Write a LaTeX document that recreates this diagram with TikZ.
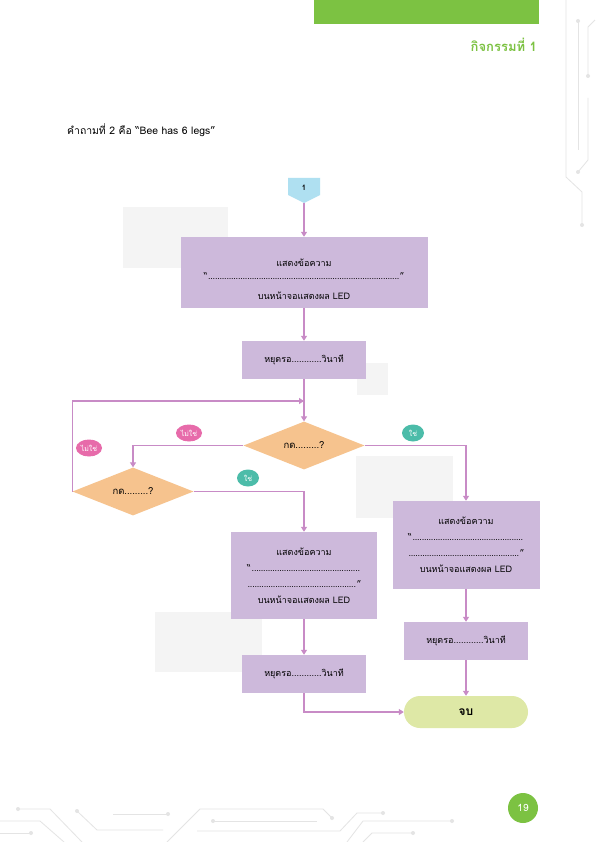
\documentclass[tikz,border=0pt]{standalone}
\usepackage{fontspec}
\setmainfont{Loma}[Script=Thai]
\usetikzlibrary{shapes.geometric,arrows.meta}
\definecolor{boxp}{HTML}{CDB9DB}
\definecolor{linep}{HTML}{C88BC6}
\definecolor{dia}{HTML}{F6C38E}
\definecolor{lblue}{HTML}{AFE0F1}
\definecolor{pinkl}{HTML}{E76BAA}
\definecolor{teall}{HTML}{4CBCA9}
\definecolor{termg}{HTML}{DEE8A6}
\definecolor{hgreen}{HTML}{7CC242}
\definecolor{shade}{HTML}{F4F4F4}
\definecolor{deco}{HTML}{E4E4E4}
\newcommand\dotline[1]{\hbox to #1{\cleaders\hbox to 2.3pt{\hss.\hss}\hfill}}
\tikzset{
  procbox/.style={fill=boxp, draw=none, inner sep=0pt, align=center, font=\fontsize{9}{16}\selectfont},
  decis/.style={diamond, fill=dia, draw=none, inner sep=0pt, minimum width=121pt, minimum height=45pt, font=\fontsize{9.5}{10}\selectfont},
  conn/.style={draw=linep, line width=1.2pt, -{Triangle[width=6pt,length=5pt]}},
  yeslbl/.style={ellipse, fill=teall, text=white, minimum width=22pt, minimum height=17pt, inner sep=0pt, font=\fontsize{7}{8}\selectfont},
  nolbl/.style={ellipse, fill=pinkl, text=white, minimum width=26pt, minimum height=17pt, inner sep=0pt, font=\fontsize{7}{8}\selectfont},
  shadebox/.style={fill=shade, draw=none},
  decoline/.style={draw=deco, line width=0.8pt},
  decodot/.style={fill=deco, draw=none}
}
\begin{document}
\begin{tikzpicture}[x=1pt,y=-1pt]
\useasboundingbox (0,0) rectangle (595,842);
\fill[white] (0,0) rectangle (595,842);
% header
\fill[hgreen] (314,0) rectangle (539,24);
\node[anchor=east, text=hgreen, font=\fontsize{13}{15}\selectfont\bfseries, inner sep=0pt] (title) at (537,45) {กิจกรรมที่ 1};
\node[anchor=west, inner sep=0pt, font=\fontsize{10.4}{12}\selectfont] (question) at (67,130) {คำถามที่ 2 คือ “Bee has 6 legs”};
% decorations right
\draw[decoline] (566,0) -- (566,177) -- (582,192) -- (582,225);
\fill[decodot] (582,225) circle (2pt);
\draw[decoline] (578,21) -- (578,150);
\fill[decodot] (578,21) circle (2pt);
\draw[decoline] (588,76) -- (588,27) -- (595,20);
\fill[decodot] (588,76) circle (2pt);
\draw[decoline] (588,98) -- (588,160) -- (578,172);
\fill[decodot] (578,172) circle (2pt);
% decorations bottom
\draw[decoline] (18,809) -- (50,809) -- (82,842);
\fill[decodot] (18,809) circle (2pt);
\draw[decoline] (0,821) -- (40,821) -- (64,842);
\draw[decoline] (0,833) -- (31,833);
\fill[decodot] (31,833) circle (2pt);
\draw[decoline] (77,811) -- (97,830) -- (163,830);
\fill[decodot] (77,811) circle (2pt);
\draw[decoline] (113,814) -- (168,814);
\fill[decodot] (168,814) circle (2pt);
\draw[decoline] (167,842) -- (200,809) -- (323,809) -- (332,818);
\fill[decodot] (332,818) circle (2pt);
\draw[decoline] (213,821) -- (317,821);
\fill[decodot] (213,821) circle (2pt);
\draw[decoline] (197,831) -- (340,831) -- (357,813) -- (383,813);
\fill[decodot] (383,813) circle (2pt);
\draw[decoline] (347,842) -- (363,821) -- (452,821);
\fill[decodot] (452,821) circle (2pt);
\draw[decoline] (363,842) -- (372,833) -- (413,833);
\fill[decodot] (413,833) circle (2pt);
% page number
\node[circle, fill=hgreen, text=white, minimum size=30pt, inner sep=0pt, font=\fontsize{10}{11}\selectfont] (page) at (523,808) {19};
% shading panels
\fill[shadebox] (123,207) rectangle (228,268);
\fill[shadebox] (357,363) rectangle (388,395);
\fill[shadebox] (356,456) rectangle (453,518);
\fill[shadebox] (155,612) rectangle (262,672);
% start connector
\fill[lblue] (288,178) -- (320,178) -- (320,195) -- (304,203) -- (288,195) -- cycle;
\node[font=\fontsize{7.5}{8}\selectfont\bfseries, inner sep=0pt] (n1) at (304,188) {1};
\coordinate (n1b) at (304,203);
% boxes
\node[procbox, minimum width=247pt, minimum height=71pt, text depth=0pt] (b1) at (304,272.5)
  {\raisebox{5pt}{\parbox{240pt}{\centering\fontsize{9}{16}\selectfont แสดงข้อความ\\[-3pt] “\dotline{192pt}”\\[4pt] บนหน้าจอแสดงผล LED}}};
\node[procbox, minimum width=124pt, minimum height=38pt] (b2) at (304,360) {หยุดรอ............วินาที};
\node[decis] (d1) at (304,445.5) {กด.........?};
\node[decis] (d2) at (133,491.5) {กด.........?};
\node[procbox, minimum width=146pt, minimum height=87pt] (b3) at (304,575.5)
  {แสดงข้อความ\\ “\dotline{110pt}\\ \dotline{110pt}”\\ บนหน้าจอแสดงผล LED};
\node[procbox, minimum width=147pt, minimum height=88pt] (b4) at (466,545)
  {แสดงข้อความ\\ “\dotline{112pt}\\ \dotline{112pt}”\\ บนหน้าจอแสดงผล LED};
\node[procbox, minimum width=124pt, minimum height=38pt] (b5) at (304,674) {หยุดรอ............วินาที};
\node[procbox, minimum width=124pt, minimum height=38pt] (b6) at (466,641) {หยุดรอ............วินาที};
\node[fill=termg, rounded corners=16pt, minimum width=124pt, minimum height=32pt, inner sep=0pt, font=\fontsize{12}{13}\selectfont\bfseries] (end) at (466,712) {จบ};
\coordinate (loopend) at (304,401);
% connectors
\draw[conn] (n1b) -- (b1.north);
\draw[conn] (b1.south) -- (b2.north);
\draw[conn] (b2.south) -- (d1.north);
\draw[conn] (d1.west) -| (d2.north);
\draw[conn] (d1.east) -| (b4.north);
\draw[conn] (d2.east) -| (b3.north);
\draw[conn] (d2.west) |- (loopend);
\draw[conn] (b3.south) -- (b5.north);
\draw[conn] (b4.south) -- (b6.north);
\draw[conn] (b6.south) -- (end.north);
\draw[conn] (b5.south) |- (end.west);
% labels
\node[nolbl] (no1) at (189,433) {ไม่ใช่};
\node[nolbl] (no2) at (89,448) {ไม่ใช่};
\node[yeslbl] (yes1) at (248,478) {ใช่};
\node[yeslbl] (yes2) at (413,433) {ใช่};
\end{tikzpicture}
\end{document}
